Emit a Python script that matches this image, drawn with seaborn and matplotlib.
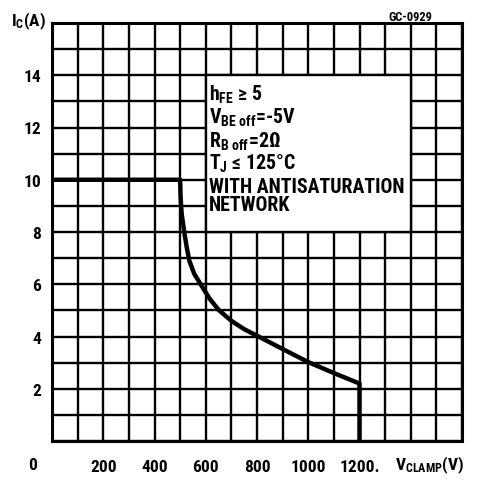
import matplotlib
matplotlib.use('Agg')
import matplotlib.pyplot as plt
from matplotlib.patches import Rectangle
import matplotlib.font_manager as fm
import pandas as pd
import seaborn as sns

# ---- data ----
v_clamp = [0, 500, 502, 506, 516, 526, 536, 555, 580, 615, 650, 700, 750, 800, 900, 1000, 1100, 1200, 1200]
i_c = [10, 10, 9.3, 8.7, 8.0, 7.4, 6.9, 6.4, 6.0, 5.45, 5.02, 4.6, 4.28, 4.03, 3.52, 3.02, 2.6, 2.2, 0]

x_ticks = [200, 400, 600, 800, 1000, 1200]
x_tick_labels = ['200', '400', '600', '800', '1000', '1200.']
y_ticks = [2, 4, 6, 8, 10, 12, 14]
y_tick_labels = ['2', '4', '6', '8', '10', '12', '14']

conditions = [r'$\mathbf{h_{FE}}$ ≥ 5',
              r'$\mathbf{V_{BE\ off}}$=-5V',
              r'$\mathbf{R_{B\ off}}$=2Ω',
              r'$\mathbf{T_{J}}$ ≤ 125°C',
              'WITH ANTISATURATION',
              'NETWORK']

sns.set_style('white')
names = {f.name for f in fm.fontManager.ttflist}
main = 'DejaVu Sans'
for cand in ['Roboto Condensed', 'Archivo Narrow', 'PT Sans Narrow', 'Liberation Sans Narrow',
             'Arial Narrow', 'Open Sans Condensed', 'Encode Sans Condensed', 'Fira Sans Condensed']:
    if cand in names:
        main = cand
        break
plt.rcParams['font.family'] = [main, 'DejaVu Sans']
plt.rcParams['font.weight'] = 'bold'
plt.rcParams['text.color'] = 'black'
plt.rcParams['xtick.color'] = 'black'
plt.rcParams['ytick.color'] = 'black'
plt.rcParams['mathtext.fontset'] = 'custom'
plt.rcParams['mathtext.bf'] = f'{main}:bold'
plt.rcParams['mathtext.rm'] = f'{main}:bold'
plt.rcParams['mathtext.it'] = f'{main}:bold'

fig = plt.figure(figsize=(4.78, 4.81), dpi=100)
ax = fig.add_axes([52/478, 1-442/481, (462-52)/478, (442-24)/481])

df = pd.DataFrame({'V': v_clamp, 'I': i_c})
sns.lineplot(data=df, x='V', y='I', sort=False, estimator=None, color='black', lw=3.2, ax=ax, zorder=4)

ax.set_xlim(0, 1600)
ax.set_ylim(0, 16)
ax.set_xticks(range(0, 1601, 100), minor=True)
ax.set_yticks(range(0, 17, 1), minor=True)
ax.set_xticks(x_ticks, x_tick_labels)
ax.set_yticks(y_ticks, y_tick_labels)
ax.grid(True, which='both', color='black', lw=1.7)
ax.set_axisbelow(True)
ax.tick_params(which='both', length=0)
ax.tick_params(axis='x', pad=13, labelsize=12.5)
ax.tick_params(axis='y', pad=8, labelsize=12.5)
for lab in ax.get_xticklabels() + ax.get_yticklabels():
    lab.set_fontweight('bold')
for s in ax.spines.values():
    s.set_color('black')
    s.set_linewidth(2.2)
ax.set_xlabel('')
ax.set_ylabel('')

ax.add_patch(Rectangle((600, 8), 800, 6, facecolor='white', edgecolor='black', lw=1.7, zorder=2))

baselines = [13.07, 12.19, 11.28, 10.44, 9.53, 8.84]
for txt, yb in zip(conditions, baselines):
    ax.text(612, yb, txt, fontsize=14.3, fontweight='bold', va='baseline', ha='left', zorder=5)

ax.text(-75, -0.9, '0', fontsize=12.5, fontweight='bold', ha='center', va='center', clip_on=False)
ax.text(1340, -0.9, r'$\mathbf{V_{CLAMP}}$(V)', fontsize=12.5, fontweight='bold', ha='left', va='center', clip_on=False)
ax.text(-160, 16.1, r'$\mathbf{I_{C}}$(A)', fontsize=12.5, fontweight='bold', ha='left', va='center', clip_on=False)
ax.text(1400, 16.25, 'GC-0929', fontsize=9, fontweight='bold', ha='center', va='center', clip_on=False)

fig.savefig('out.png', dpi=100)
